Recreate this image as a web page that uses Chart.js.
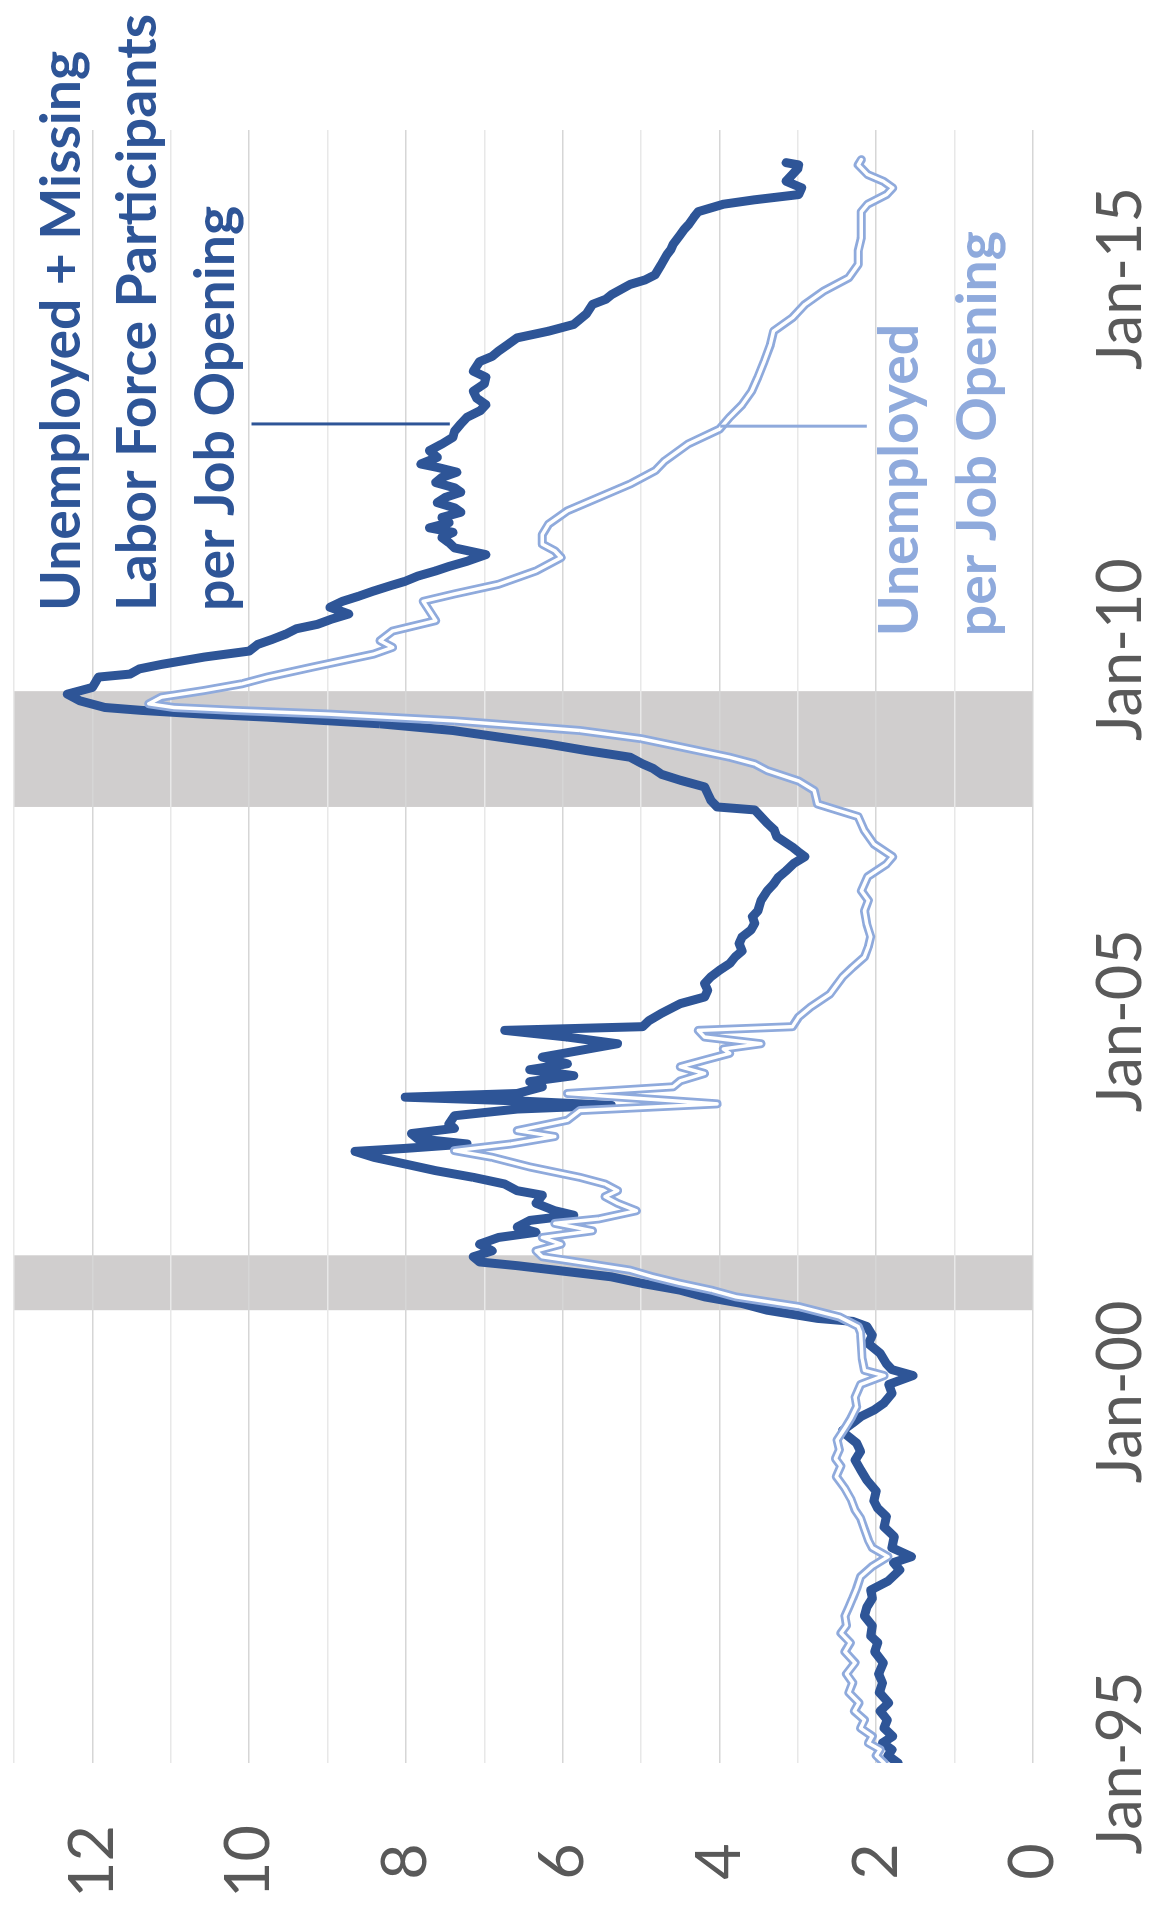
<!DOCTYPE html>
<html>
<head>
<meta charset="utf-8">
<script src="https://cdn.jsdelivr.net/npm/chart.js@4.4.0/dist/chart.umd.min.js"></script>
<style>
  html, body { margin: 0; padding: 0; background: #fff; }
  #page { position: relative; width: 1157px; height: 1908px; overflow: hidden; }
  /* the chart is drawn upright and then turned a quarter left, like the picture */
  #turn { position: absolute; left: 0; top: 0; width: 1908px; height: 1157px;
          transform-origin: 0 0; transform: translateY(1908px) rotate(-90deg); }
</style>
</head>
<body>
<div id="page"><div id="turn"><canvas id="chart" width="1908" height="1157"></canvas></div></div>
<script>
// Unemployed + missing labor force participants per job opening (years as decimals)
const darkYears = [
  1995.00, 1995.10, 1995.18, 1995.27, 1995.36, 1995.47, 1995.58, 1995.70, 1995.81, 1995.95,
  1996.08, 1996.20, 1996.35, 1996.50, 1996.62, 1996.71, 1996.85, 1996.98, 1997.10, 1997.22,
  1997.33, 1997.45, 1997.60, 1997.70, 1997.78, 1997.90, 1998.05, 1998.18, 1998.32, 1998.43,
  1998.53, 1998.66, 1998.81, 1998.95, 1999.08, 1999.20, 1999.31, 1999.42, 1999.48, 1999.58,
  1999.67, 1999.76, 1999.85, 1999.98, 2000.10, 2000.22, 2000.30, 2000.38, 2000.52, 2000.65,
  2000.76, 2000.88, 2000.95, 2000.99, 2001.10, 2001.19, 2001.28, 2001.37, 2001.46, 2001.55,
  2001.64, 2001.70, 2001.75, 2001.82, 2001.90, 2001.99, 2002.08, 2002.15, 2002.22, 2002.31,
  2002.38, 2002.44, 2002.54, 2002.65, 2002.71, 2002.80, 2002.89, 2002.98, 2003.07, 2003.16,
  2003.24, 2003.28, 2003.34, 2003.41, 2003.48, 2003.55, 2003.61, 2003.72, 2003.81, 2003.86,
  2003.92, 2003.97, 2004.02, 2004.11, 2004.18, 2004.26, 2004.34, 2004.42, 2004.51, 2004.60,
  2004.69, 2004.78, 2004.87, 2004.92, 2005.00, 2005.10, 2005.23, 2005.32, 2005.41, 2005.50,
  2005.59, 2005.68, 2005.77, 2005.86, 2005.94, 2006.04, 2006.13, 2006.22, 2006.31, 2006.40,
  2006.48, 2006.62, 2006.75, 2006.84, 2006.93, 2007.02, 2007.12, 2007.21, 2007.28, 2007.34,
  2007.48, 2007.57, 2007.66, 2007.75, 2007.84, 2007.88, 2007.97, 2008.06, 2008.15, 2008.24,
  2008.32, 2008.40, 2008.46, 2008.55, 2008.64, 2008.73, 2008.82, 2008.91, 2009.00, 2009.09,
  2009.13, 2009.18, 2009.22, 2009.31, 2009.40, 2009.49, 2009.58, 2009.63, 2009.67, 2009.74,
  2009.80, 2009.90, 2009.98, 2010.07, 2010.14, 2010.21, 2010.28, 2010.34, 2010.41, 2010.48,
  2010.57, 2010.65, 2010.72, 2010.79, 2010.86, 2010.92, 2010.99, 2011.06, 2011.12, 2011.19,
  2011.28, 2011.37, 2011.44, 2011.51, 2011.58, 2011.64, 2011.71, 2011.78, 2011.85, 2011.91,
  2011.98, 2012.05, 2012.12, 2012.18, 2012.25, 2012.32, 2012.39, 2012.45, 2012.50, 2012.59,
  2012.68, 2012.77, 2012.86, 2012.94, 2013.04, 2013.13, 2013.22, 2013.30, 2013.39, 2013.48,
  2013.58, 2013.67, 2013.75, 2013.88, 2013.95, 2014.02, 2014.11, 2014.20, 2014.29, 2014.38,
  2014.45, 2014.52, 2014.65, 2014.72, 2014.78, 2014.92, 2014.98, 2015.05, 2015.19, 2015.32,
  2015.39, 2015.46, 2015.59, 2015.66, 2015.73, 2015.82, 2015.90, 2016.00, 2016.06, 2016.13,
  2016.22, 2016.31, 2016.40, 2016.48, 2016.53, 2016.56
];
const darkValues = [
  1.72, 1.85, 1.80, 1.92, 1.79, 1.90, 1.86, 1.95, 1.84, 1.96,
  1.92, 1.97, 1.91, 2.02, 1.98, 2.07, 2.05, 2.15, 2.12, 2.05,
  2.07, 1.85, 1.70, 1.78, 1.55, 1.80, 1.77, 1.90, 1.87, 1.98,
  2.03, 2.00, 2.12, 2.20, 2.27, 2.20, 2.25, 2.38, 2.43, 2.30,
  2.19, 2.02, 1.90, 1.80, 1.84, 1.53, 1.80, 1.87, 1.95, 2.10,
  2.05, 2.12, 2.30, 2.75, 3.39, 3.71, 4.19, 4.50, 4.98, 5.38,
  6.10, 6.58, 7.06, 7.14, 6.90, 7.06, 6.82, 6.34, 6.58, 6.42,
  5.86, 6.10, 6.34, 6.26, 6.58, 6.74, 7.14, 7.62, 8.01, 8.41,
  8.65, 8.01, 7.22, 7.85, 7.93, 7.38, 7.45, 7.38, 6.58, 5.38,
  6.58, 8.01, 6.58, 6.26, 6.42, 5.86, 6.42, 5.94, 6.26, 5.78,
  5.30, 5.94, 6.74, 4.98, 4.90, 4.74, 4.50, 4.19, 4.15, 4.19,
  4.11, 4.00, 3.87, 3.80, 3.71, 3.75, 3.71, 3.60, 3.55, 3.58,
  3.51, 3.47, 3.39, 3.31, 3.25, 3.15, 3.05, 2.91, 3.00, 3.07,
  3.27, 3.30, 3.39, 3.47, 3.55, 4.03, 4.11, 4.15, 4.19, 4.50,
  4.74, 4.85, 4.98, 5.14, 5.70, 6.20, 6.80, 7.40, 8.33, 9.77,
  10.57, 11.36, 11.84, 12.16, 12.32, 12.00, 11.95, 11.92, 11.52, 11.40,
  11.12, 10.57, 10.00, 9.89, 9.70, 9.53, 9.40, 9.13, 8.95, 8.73,
  8.97, 8.81, 8.60, 8.41, 8.20, 8.01, 7.85, 7.62, 7.45, 7.22,
  6.98, 7.38, 7.45, 7.54, 7.40, 7.70, 7.45, 7.54, 7.30, 7.38,
  7.60, 7.50, 7.30, 7.38, 7.62, 7.54, 7.35, 7.58, 7.81, 7.60,
  7.70, 7.54, 7.40, 7.38, 7.30, 7.22, 7.05, 6.98, 7.10, 7.14,
  7.00, 6.98, 7.14, 7.06, 6.90, 6.82, 6.70, 6.58, 6.18, 5.86,
  5.78, 5.70, 5.62, 5.45, 5.38, 5.14, 4.95, 4.82, 4.74, 4.67,
  4.62, 4.59, 4.50, 4.45, 4.39, 4.33, 4.27, 3.95, 3.55, 2.99,
  2.95, 3.15, 3.07, 3.00, 2.99, 3.15
];

// Unemployed per job opening
const lightYears = [
  1995.00, 1995.10, 1995.18, 1995.27, 1995.36, 1995.47, 1995.58, 1995.70, 1995.81, 1995.95,
  1996.08, 1996.20, 1996.35, 1996.50, 1996.62, 1996.75, 1996.85, 1996.98, 1997.10, 1997.22,
  1997.35, 1997.51, 1997.65, 1997.78, 1997.90, 1998.00, 1998.15, 1998.30, 1998.41, 1998.55,
  1998.70, 1998.86, 1999.00, 1999.10, 1999.22, 1999.35, 1999.53, 1999.65, 1999.80, 1999.93,
  2000.10, 2000.22, 2000.29, 2000.45, 2000.65, 2000.80, 2000.88, 2001.01, 2001.15, 2001.28,
  2001.37, 2001.46, 2001.55, 2001.64, 2001.77, 2001.82, 2001.90, 2001.99, 2002.08, 2002.17,
  2002.27, 2002.33, 2002.44, 2002.54, 2002.63, 2002.71, 2002.80, 2002.89, 2003.03, 2003.16,
  2003.25, 2003.34, 2003.44, 2003.52, 2003.66, 2003.79, 2003.88, 2003.95, 2004.02, 2004.11,
  2004.19, 2004.29, 2004.38, 2004.47, 2004.56, 2004.62, 2004.69, 2004.78, 2004.87, 2004.92,
  2005.05, 2005.19, 2005.36, 2005.59, 2005.72, 2005.86, 2006.00, 2006.13, 2006.30, 2006.48,
  2006.62, 2006.75, 2006.94, 2007.11, 2007.21, 2007.38, 2007.56, 2007.75, 2007.92, 2008.10,
  2008.23, 2008.37, 2008.46, 2008.55, 2008.69, 2008.80, 2008.91, 2009.04, 2009.13, 2009.18,
  2009.22, 2009.27, 2009.36, 2009.45, 2009.54, 2009.63, 2009.76, 2009.94, 2010.03, 2010.12,
  2010.25, 2010.39, 2010.52, 2010.65, 2010.75, 2010.88, 2011.06, 2011.24, 2011.33, 2011.42,
  2011.55, 2011.69, 2011.87, 2012.05, 2012.23, 2012.41, 2012.54, 2012.77, 2012.97, 2013.13,
  2013.30, 2013.48, 2013.67, 2013.88, 2014.11, 2014.29, 2014.47, 2014.65, 2014.83, 2015.01,
  2015.19, 2015.37, 2015.55, 2015.73, 2015.90, 2016.00, 2016.13, 2016.22, 2016.31, 2016.40,
  2016.53, 2016.60
];
const lightValues = [
  1.90, 2.00, 1.95, 2.10, 2.05, 2.20, 2.15, 2.28, 2.22, 2.35,
  2.30, 2.38, 2.27, 2.40, 2.33, 2.45, 2.38, 2.40, 2.35, 2.30,
  2.25, 2.20, 2.05, 1.85, 2.05, 2.10, 2.15, 2.20, 2.27, 2.32,
  2.40, 2.51, 2.45, 2.52, 2.47, 2.50, 2.39, 2.32, 2.25, 2.27,
  2.20, 1.90, 2.15, 2.18, 2.19, 2.20, 2.23, 2.47, 2.99, 3.79,
  4.10, 4.50, 4.85, 5.14, 5.94, 6.26, 6.34, 6.02, 6.26, 5.62,
  6.10, 5.54, 5.06, 5.30, 5.46, 5.30, 5.46, 5.78, 6.42, 6.90,
  7.38, 6.66, 6.10, 6.58, 5.94, 5.78, 4.03, 4.98, 5.94, 4.59,
  4.50, 4.19, 4.50, 4.19, 3.87, 3.95, 3.47, 4.19, 4.27, 3.07,
  2.99, 2.83, 2.59, 2.43, 2.30, 2.15, 2.10, 2.07, 2.12, 2.15,
  2.10, 2.19, 2.11, 1.87, 1.79, 2.03, 2.15, 2.23, 2.75, 2.79,
  2.99, 3.39, 3.55, 3.87, 4.50, 5.00, 5.78, 7.38, 8.97, 10.17,
  10.96, 11.28, 11.12, 10.57, 10.09, 9.77, 9.21, 8.41, 8.17, 8.33,
  8.17, 7.62, 7.70, 7.78, 7.38, 6.82, 6.34, 6.02, 6.10, 6.26,
  6.26, 6.18, 5.94, 5.54, 5.14, 4.82, 4.70, 4.40, 4.00, 3.87,
  3.71, 3.59, 3.51, 3.43, 3.35, 3.31, 3.07, 2.91, 2.67, 2.35,
  2.23, 2.23, 2.19, 2.19, 2.19, 2.11, 1.87, 1.79, 1.91, 2.11,
  2.23, 2.19
];

// recessions (shaded)
const recessionStart = [2001.10, 2007.88];
const recessionEnd = [2001.84, 2009.44];

// axis
const yearTicks = [1995, 2000, 2005, 2010, 2015];
const valueTicks = [0, 2, 4, 6, 8, 10, 12];

const darkNote = ['Unemployed + Missing', 'Labor Force Participants', 'per Job Opening'];
const lightNote = ['Unemployed', 'per Job Opening'];

const DARK = '#2E5597';
const LIGHT = '#8FAADC';
const GREY_TXT = '#595959';
const FONT = 'Lato, "Open Sans", sans-serif';

// pick a font size so that a text gets the width it has in the picture
function fitSize(text, target, weight) {
  const c = document.createElement('canvas').getContext('2d');
  c.font = weight + ' 100px ' + FONT;
  return Math.round(1000 * target / c.measureText(text).width) / 10;
}
const valueSize = fitSize('12', 73, 'normal');
const yearSize = fitSize('Jan-15', 183, 'normal');
const noteSize = fitSize('per Job Opening', 405, 'bold');

const toPoints = (xs, ys) => xs.map((x, i) => ({ x: x, y: ys[i] }));

const overlay = {
  id: 'overlay',
  beforeDraw(chart) {
    const { ctx, chartArea: a, scales: { x } } = chart;
    ctx.save();
    ctx.fillStyle = '#D0CECE';
    recessionStart.forEach((s, i) => {
      const x0 = x.getPixelForValue(s), x1 = x.getPixelForValue(recessionEnd[i]);
      ctx.fillRect(x0, a.top, x1 - x0, a.bottom - a.top);
    });
    ctx.restore();
  },
  afterDatasetsDraw(chart) {
    const { ctx, scales: { x, y } } = chart;
    ctx.save();
    // leader lines from the notes to their series
    ctx.lineWidth = 3;
    ctx.strokeStyle = DARK;
    ctx.beginPath();
    ctx.moveTo(x.getPixelForValue(2013.04), y.getPixelForValue(9.97));
    ctx.lineTo(x.getPixelForValue(2013.04), y.getPixelForValue(7.44));
    ctx.stroke();
    ctx.strokeStyle = LIGHT;
    ctx.beginPath();
    ctx.moveTo(x.getPixelForValue(2013.01), y.getPixelForValue(3.99));
    ctx.lineTo(x.getPixelForValue(2013.01), y.getPixelForValue(2.12));
    ctx.stroke();

    ctx.font = 'bold ' + noteSize + 'px ' + FONT;
    ctx.textAlign = 'left';
    ctx.textBaseline = 'alphabetic';
    ctx.fillStyle = DARK;
    const darkBase = [12.16, 11.19, 10.19];
    darkNote.forEach((t, i) => ctx.fillText(t, x.getPixelForValue(2010.52), y.getPixelForValue(darkBase[i])));
    ctx.fillStyle = LIGHT;
    const lightBase = [1.47, 0.47];
    lightNote.forEach((t, i) => ctx.fillText(t, x.getPixelForValue(2010.18), y.getPixelForValue(lightBase[i])));
    ctx.restore();
  }
};

new Chart(document.getElementById('chart'), {
  type: 'line',
  data: {
    datasets: [
      { // white core of the double line
        data: toPoints(lightYears, lightValues),
        borderColor: '#ffffff', borderWidth: 3.5
      },
      {
        data: toPoints(lightYears, lightValues),
        borderColor: LIGHT, borderWidth: 9
      },
      {
        data: toPoints(darkYears, darkValues),
        borderColor: DARK, borderWidth: 9
      }
    ]
  },
  options: {
    responsive: false,
    animation: false,
    events: [],
    layout: { padding: { top: 14, right: 130, left: 0, bottom: 0 } },
    elements: {
      point: { radius: 0 },
      line: { tension: 0, fill: false, borderJoinStyle: 'round', borderCapStyle: 'round' }
    },
    plugins: { legend: { display: false }, tooltip: { enabled: false } },
    scales: {
      x: {
        type: 'linear', min: 1995, max: 2017,
        afterFit: s => { s.height = 124; },
        grid: { display: false, drawTicks: false },
        border: { display: false },
        afterBuildTicks: s => { s.ticks = yearTicks.map(v => ({ value: v })); },
        ticks: {
          autoSkip: false, maxRotation: 0, padding: 52, color: GREY_TXT,
          font: { family: FONT, size: yearSize },
          callback: v => 'Jan-' + String(v).slice(2)
        }
      },
      y: {
        min: 0, max: 13,
        // fixed label column; no extra room for half-height labels
        afterFit: s => { s.width = 145; s.paddingTop = 0; s.paddingBottom = 0; },
        grid: {
          color: c => (c.tick && c.tick.value % 2 === 0) ? '#D6D6D6' : '#E8E8E8',
          lineWidth: 1.5, drawTicks: false
        },
        border: { display: false },
        ticks: {
          stepSize: 1, autoSkip: false, crossAlign: 'center', padding: 62, color: GREY_TXT,
          font: { family: FONT, size: valueSize },
          callback: v => valueTicks.includes(v) ? String(v) : ''
        }
      }
    }
  },
  plugins: [overlay]
});
</script>
</body>
</html>
